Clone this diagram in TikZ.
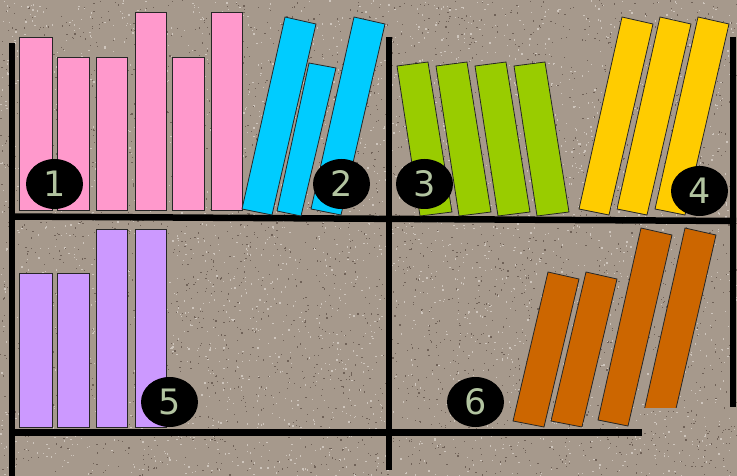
\documentclass[tikz,border=0pt]{standalone}
\usepackage{fontspec}
\newfontfamily\tagfont{DejaVu Sans}
\usetikzlibrary{shapes.geometric}
\definecolor{granite}{RGB}{166,153,140}
\definecolor{grainlight}{RGB}{206,197,188}
\definecolor{graindark}{RGB}{112,98,88}
\definecolor{pinkbook}{RGB}{255,153,204}
\definecolor{bluebook}{RGB}{0,204,255}
\definecolor{greenbook}{RGB}{153,204,0}
\definecolor{yellowbook}{RGB}{255,204,0}
\definecolor{violetbook}{RGB}{204,153,255}
\definecolor{orangebook}{RGB}{204,102,0}
\definecolor{digitgreen}{RGB}{178,196,160}

\begin{document}
\begin{tikzpicture}[x=1pt,y=-1pt]
  \tikzset{
    shelf/.style={draw=black,line width=6.5pt},
    book/.style={draw=black!85,line width=0.8pt},
    tag/.style={ellipse,fill=black,minimum width=57pt,minimum height=50pt,inner sep=0pt,
                text=digitgreen,font=\tagfont\fontsize{35}{35}\selectfont},
  }
  \useasboundingbox (0,0) rectangle (737,476);
  \fill[granite] (0,0) rectangle (737,476);
  % granite grain
  \pgfmathsetseed{11}
  \foreach \i in {1,...,3200}{
    \fill[grainlight] (737*rnd,476*rnd) rectangle +(1.3,1.3);
    \fill[graindark] (737*rnd,476*rnd) rectangle +(1.2,1.2);
  }

  % shelves
  \draw[shelf] (12,43) -- (12,476);
  \draw[shelf] (389,37) -- (389,470);
  \draw[shelf] (733,37) -- (733,407);
  \draw[shelf] (12,216.5) -- (736,221);
  \draw[shelf] (12,432.5) -- (642,432.5);

  % upright books
  \foreach \xl/\xr/\top in {19/52/37, 57/89/57, 96/127/57, 135/166/12, 172/204/57, 211/242/12}
    \draw[book,fill=pinkbook] (\xl,\top) rectangle (\xr,210);
  \foreach \xl/\xr/\top in {19/52/273, 57/89/273, 96/127/229, 135/166/229}
    \draw[book,fill=violetbook] (\xl,\top) rectangle (\xr,427);

  % leaning books, given by bottom left corner
  \foreach \bx/\by/\col in {242/209/bluebook, 311/209/bluebook, 579/209/yellowbook,
                            617/209/yellowbook, 655/209/yellowbook, 598/420/orangebook}
    \draw[book,fill=\col,shift={(\bx,\by)}] (0,0) -- (30,6) -- (74,-185) -- (43,-192) -- cycle;
  \draw[book,fill=bluebook,shift={(277,211)}] (0,0) -- (24,5) -- (59,-143) -- (32,-148) -- cycle;
  \foreach \bx in {513,551}
    \draw[book,fill=orangebook,shift={(\bx,421)}] (0,0) -- (31,6) -- (66,-142) -- (35,-149) -- cycle;
  \begin{scope}
    \clip (600,200) rectangle (737,407);
    \draw[book,fill=orangebook,shift={(642,420)}] (0,0) -- (30,6) -- (74,-185) -- (43,-192) -- cycle;
  \end{scope}
  \foreach \bx in {420,459,498,537}
    \draw[book,fill=greenbook,shift={(\bx,216)}] (0,0) -- (32,-4) -- (8,-154) -- (-23,-150) -- cycle;

  % number tags
  \node[tag] (n1) at (54.5,184) {1};
  \node[tag] (n2) at (341.5,184) {2};
  \node[tag] (n3) at (424.5,184) {3};
  \node[tag] (n4) at (699.5,191) {4};
  \node[tag] (n5) at (169.5,402) {5};
  \node[tag] (n6) at (475.5,402) {6};
\end{tikzpicture}
\end{document}
